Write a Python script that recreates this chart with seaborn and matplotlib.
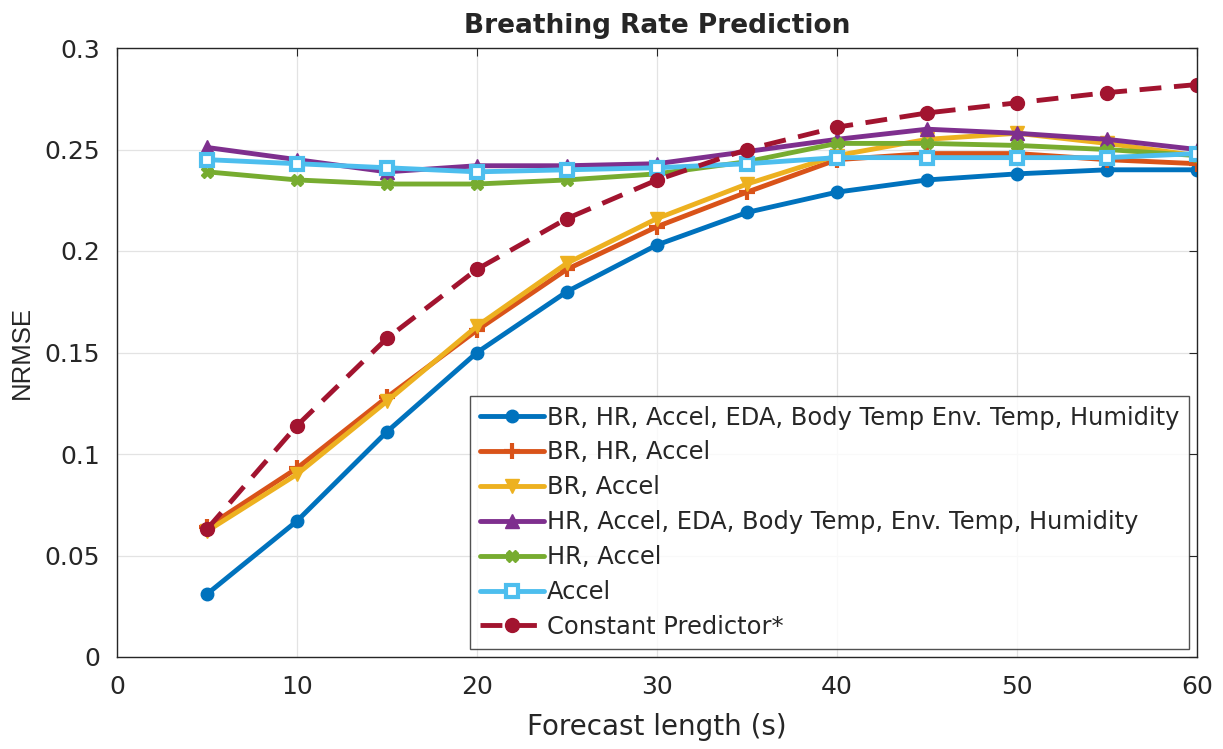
import numpy as np
import pandas as pd
import matplotlib
matplotlib.use("Agg")
import matplotlib.pyplot as plt
import seaborn as sns

# =====================================
# DATA
# =====================================

forecast_s = [5, 10, 15, 20, 25, 30, 35, 40, 45, 50, 55, 60]

series_names = [
    "BR, HR, Accel, EDA, Body Temp Env. Temp, Humidity",
    "BR, HR, Accel",
    "BR, Accel",
    "HR, Accel, EDA, Body Temp, Env. Temp, Humidity",
    "HR, Accel",
    "Accel",
    "Constant Predictor*",
]

br_all = [0.031, 0.067, 0.111, 0.150, 0.180, 0.203, 0.219, 0.229, 0.235, 0.238, 0.240, 0.240]
br_hr_accel = [0.064, 0.093, 0.128, 0.161, 0.191, 0.212, 0.229, 0.245, 0.248, 0.248, 0.245, 0.243]
br_accel = [0.062, 0.090, 0.126, 0.163, 0.194, 0.216, 0.233, 0.247, 0.255, 0.258, 0.253, 0.247]
hr_all = [0.251, 0.245, 0.239, 0.242, 0.242, 0.243, 0.249, 0.255, 0.260, 0.258, 0.255, 0.250]
hr_accel = [0.239, 0.235, 0.233, 0.233, 0.235, 0.238, 0.244, 0.253, 0.253, 0.252, 0.250, 0.247]
accel = [0.245, 0.243, 0.241, 0.239, 0.240, 0.241, 0.243, 0.246, 0.246, 0.246, 0.246, 0.248]
constant = [0.063, 0.114, 0.157, 0.191, 0.216, 0.235, 0.250, 0.261, 0.268, 0.273, 0.278, 0.282]

all_values = [br_all, br_hr_accel, br_accel, hr_all, hr_accel, accel, constant]

# =====================================
# STYLE
# =====================================

colors = ["#0072BD", "#D95319", "#EDB120", "#7E2F8E", "#77AC30", "#4DBEEE", "#A2142F"]
markers = ["o", "+", "v", "^", "X", "s", "o"]
faces = ["#0072BD", "#D95319", "#EDB120", "#7E2F8E", "#77AC30", "white", "#A2142F"]
msizes = [9, 12, 10, 10, 9, 8, 10]
dashed = [False, False, False, False, False, False, True]

sns.set_style("white")
plt.rcParams["font.family"] = ["DejaVu Sans"]

fig = plt.figure(figsize=(12.23, 7.49), dpi=100)
ax = fig.add_axes([117 / 1223, 1 - 657 / 749, (1197 - 117) / 1223, (657 - 48) / 749])

for name, vals, col, mk, fc, ms, ds in zip(series_names, all_values, colors, markers,
                                           faces, msizes, dashed):
    df = pd.DataFrame({"x": forecast_s, "y": vals})
    sns.lineplot(
        data=df, x="x", y="y", ax=ax,
        color=col, marker=mk, markersize=ms,
        markeredgecolor=col, markerfacecolor=fc, markeredgewidth=3 if mk in "+s" else 1,
        linewidth=3.5, label=name,
        linestyle=(0, (4.5, 2.6)) if ds else "-",
    )

ax.set_xlim(0, 60)
ax.set_ylim(0, 0.3)
ax.set_xticks(np.arange(0, 61, 10))
ax.set_yticks(np.arange(0, 0.301, 0.05))
ax.set_yticklabels(["0", "0.05", "0.1", "0.15", "0.2", "0.25", "0.3"])

ax.grid(True, color="#e3e3e3", linewidth=0.9)
ax.set_axisbelow(True)
for sp in ax.spines.values():
    sp.set_color("#262626")
    sp.set_linewidth(1.0)

ax.tick_params(axis="both", direction="in", length=6, labelsize=18,
               colors="#262626", top=True, right=True)
ax.tick_params(axis="x", pad=13)
ax.tick_params(axis="y", pad=12)

ax.set_xlabel("Forecast length (s)", fontsize=20, color="#262626", labelpad=10)
ax.set_ylabel("NRMSE", fontsize=18.5, color="#262626", family="Liberation Sans", labelpad=8)
ax.set_title("Breathing Rate Prediction", fontsize=19, fontweight="bold", pad=11)

leg = ax.legend(
    loc="lower right", fontsize=17.4, frameon=True, fancybox=False,
    edgecolor="#262626", handlelength=2.65, handletextpad=0.1,
    borderpad=0.4, labelspacing=0.45, borderaxespad=0.35,
)
leg.get_frame().set_linewidth(1.0)

fig.savefig("out.png", dpi=100)
